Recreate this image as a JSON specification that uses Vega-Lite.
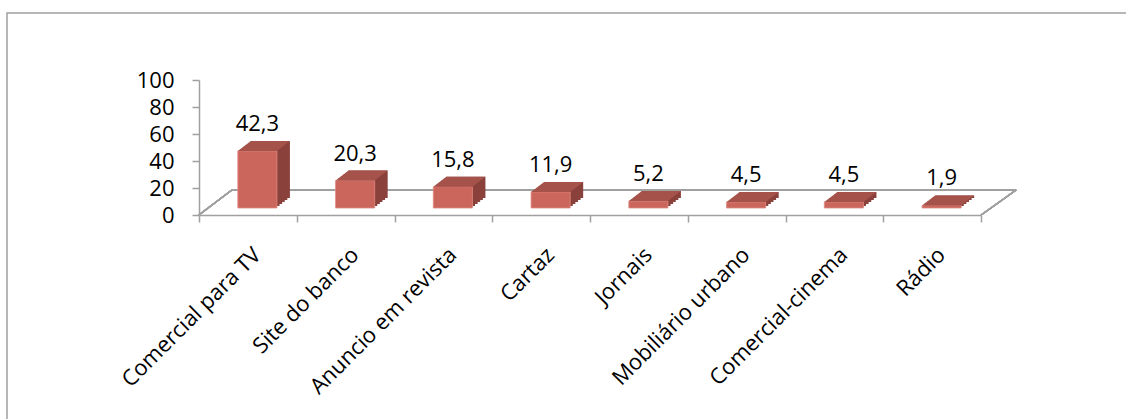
{
  "$schema": "https://vega.github.io/schema/vega-lite/v6.json",
  "width": 1130,
  "height": 420,
  "autosize": {"type": "none"},
  "padding": {"left": 7, "top": 13, "right": 0, "bottom": 0},
  "background": "white",
  "config": {
    "locale": {"number": {"decimal": ",", "thousands": ".", "grouping": [3], "currency": ["", " €"]}},
    "view": {"stroke": "#a0a0a0", "strokeWidth": 1.5},
    "font": "Open Sans",
    "axis": {"labelFont": "Open Sans", "labelColor": "#000000", "domainColor": "#a0a0a0", "tickColor": "#a0a0a0", "domainWidth": 1.5, "tickWidth": 1.5, "grid": false, "title": null}
  },
  "data": {"values": [
    {"meio": "Comercial para TV", "pct": 42.3},
    {"meio": "Site do banco", "pct": 20.3},
    {"meio": "Anuncio em revista", "pct": 15.8},
    {"meio": "Cartaz", "pct": 11.9},
    {"meio": "Jornais", "pct": 5.2},
    {"meio": "Mobiliário urbano", "pct": 4.5},
    {"meio": "Comercial-cinema", "pct": 4.5},
    {"meio": "Rádio", "pct": 1.9}
  ]},
  "layer": [
    {
      "mark": {"type": "rule", "color": "#a0a0a0", "strokeWidth": 1.5, "xOffset": -16, "x2Offset": 84, "yOffset": -25},
      "encoding": {
        "x": {"datum": "Comercial para TV", "type": "nominal",
          "scale": {"type": "band", "domain": ["Comercial para TV", "Site do banco", "Anuncio em revista", "Cartaz", "Jornais", "Mobiliário urbano", "Comercial-cinema", "Rádio"], "range": [192, 974], "paddingInner": 0, "paddingOuter": 0},
          "axis": {"orient": "bottom", "offset": -218, "tickBand": "extent", "tickSize": 7, "labelAngle": -45, "labelAlign": "right", "labelBaseline": "middle", "labelPadding": 29, "labelOffset": 9, "labelFontSize": 22, "labelLimit": 500}},
        "x2": {"datum": "Rádio"},
        "y": {"datum": 0, "type": "quantitative",
          "scale": {"domain": [0, 100], "range": [202, 67], "nice": false, "zero": true},
          "axis": {"orient": "left", "offset": -192, "values": [0, 20, 40, 60, 80, 100], "tickSize": 7, "labelPadding": 18, "labelFontSize": 22, "labelBaseline": "middle"}}
      }
    },
    {
      "mark": {"type": "rule", "color": "#a0a0a0", "strokeWidth": 1.5, "xOffset": -49, "x2Offset": -16, "yOffset": 0, "y2Offset": -25},
      "encoding": {
        "x": {"datum": "Comercial para TV", "type": "nominal"},
        "x2": {"datum": "Comercial para TV"},
        "y": {"datum": 0, "type": "quantitative"},
        "y2": {"datum": 0}
      }
    },
    {
      "mark": {"type": "rule", "color": "#a0a0a0", "strokeWidth": 1.5, "xOffset": 49, "x2Offset": 84, "yOffset": 0, "y2Offset": -25},
      "encoding": {
        "x": {"datum": "Rádio", "type": "nominal"},
        "x2": {"datum": "Rádio"},
        "y": {"datum": 0, "type": "quantitative"},
        "y2": {"datum": 0}
      }
    },
    {
      "mark": {"type": "bar", "color": "#8a403b", "width": {"band": 0.4}, "xOffset": 12.1, "yOffset": -9, "y2Offset": -9},
      "encoding": {"x": {"field": "meio", "type": "nominal"}, "y": {"field": "pct", "type": "quantitative"}}
    },
    {
      "mark": {"type": "bar", "color": "#8a403b", "width": {"band": 0.4}, "xOffset": 14.7, "yOffset": -11, "y2Offset": -11},
      "encoding": {"x": {"field": "meio", "type": "nominal"}, "y": {"field": "pct", "type": "quantitative"}}
    },
    {
      "mark": {"type": "bar", "color": "#8a403b", "width": {"band": 0.4}, "xOffset": 17.3, "yOffset": -13, "y2Offset": -13},
      "encoding": {"x": {"field": "meio", "type": "nominal"}, "y": {"field": "pct", "type": "quantitative"}}
    },
    {
      "mark": {"type": "bar", "color": "#8a403b", "width": {"band": 0.4}, "xOffset": 19.9, "yOffset": -15, "y2Offset": -15},
      "encoding": {"x": {"field": "meio", "type": "nominal"}, "y": {"field": "pct", "type": "quantitative"}}
    },
    {
      "mark": {"type": "bar", "color": "#8a403b", "width": {"band": 0.4}, "xOffset": 22.5, "yOffset": -17, "y2Offset": -17},
      "encoding": {"x": {"field": "meio", "type": "nominal"}, "y": {"field": "pct", "type": "quantitative"}}
    },
    {
      "mark": {"type": "bar", "color": "#cb665d", "stroke": "#e08a80", "strokeWidth": 0.8, "width": {"band": 0.4}, "xOffset": 9.5, "yOffset": -7, "y2Offset": -7},
      "encoding": {"x": {"field": "meio", "type": "nominal"}, "y": {"field": "pct", "type": "quantitative"}}
    },
    {
      "mark": {"type": "point", "shape": "M -0.402 -0.28 L 1.162 -0.28 L 1.682 -0.68 L 0.118 -0.68 Z", "size": 2500, "filled": true, "color": "#a5524b", "opacity": 1, "strokeWidth": 0},
      "encoding": {"x": {"field": "meio", "type": "nominal"}, "y": {"field": "pct", "type": "quantitative"}}
    },
    {
      "mark": {"type": "text", "dx": 9.5, "dy": -27, "baseline": "alphabetic", "align": "center", "fontSize": 22, "font": "Open Sans", "color": "#000000"},
      "encoding": {
        "x": {"field": "meio", "type": "nominal"},
        "y": {"field": "pct", "type": "quantitative"},
        "text": {"field": "pct", "type": "quantitative", "format": ".1f"}
      }
    }
  ]
}
